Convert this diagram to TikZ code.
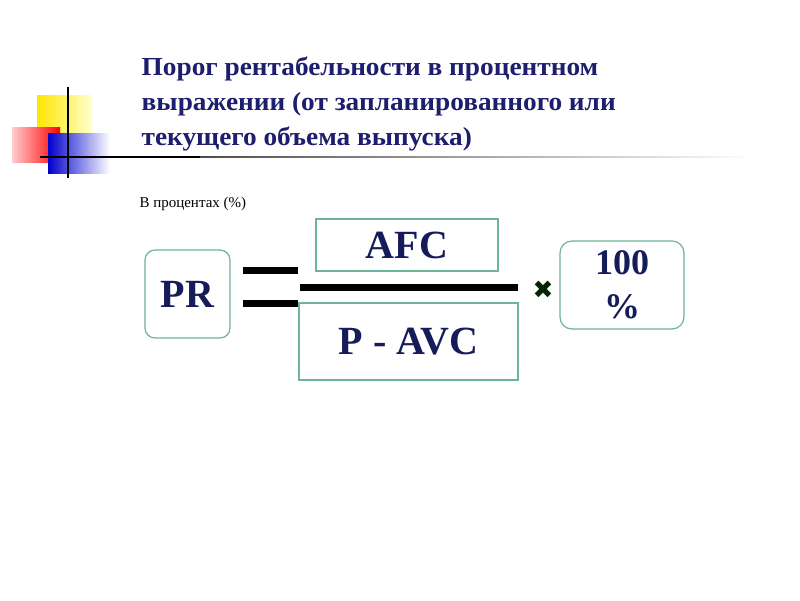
\documentclass[tikz,border=0pt]{standalone}
\usepackage{fontspec}
\setmainfont{Liberation Serif}
\newfontfamily\dejavu{DejaVu Sans}
\begin{document}
\begin{tikzpicture}[x=1pt,y=-1pt,
  bx/.style={draw=boxc,line width=1.2pt,inner sep=0pt,font=\fontsize{40}{40}\bfseries,text=navy},
  bar/.style={line width=7pt}]
\definecolor{navy}{RGB}{20,28,90}
\definecolor{tcol}{RGB}{30,30,110}
\definecolor{boxc}{RGB}{110,180,150}
\useasboundingbox (0,0) rectangle (800,600);
\fill[white] (0,0) rectangle (800,600);
% decoration
\shade[left color=yellow!80!orange,right color=yellow!20] (37,95) rectangle (92,135);
\shade[left color=red!20,right color=red] (12,127) rectangle (60,162);
\shade[left color=blue!80!black,right color=white] (48,133) rectangle (110,173);
\draw[line width=1.5pt] (68,87) -- (68,178);
\draw[line width=1.5pt] (40,157) -- (200,157);
\shade[left color=black!70,right color=white] (200,156.2) rectangle (755,157.8);
% title
\node[anchor=north west,align=left,text=tcol,xscale=1.05,font=\fontsize{26}{35}\bfseries] (title) at (138,53)
  {Порог рентабельности в процентном\\выражении (от запланированного или\\текущего объема выпуска)};
\node[anchor=west,font=\fontsize{15}{15}\selectfont] (lbl) at (136,204) {В процентах (\%)};
% formula
\node[bx,rounded corners=10pt,minimum width=85pt,minimum height=88pt] (pr) at (187.5,294) {PR};
\node[bx,minimum width=182pt,minimum height=52pt] (afc) at (407,245) {AFC};
\node[bx,minimum width=219pt,minimum height=77pt] (pavc) at (408.5,341.5) {P - AVC};
\node[bx,rounded corners=12pt,minimum width=124pt,minimum height=88pt,align=center,font=\fontsize{36}{44}\bfseries] (hund) at (622,285) {100\\\%};
\coordinate (e1a) at (243,270); \coordinate (e1b) at (298,270);
\coordinate (e2a) at (243,303); \coordinate (e2b) at (298,303);
\coordinate (fa) at (300,287); \coordinate (fb) at (518,287);
\draw[bar] (e1a) -- (e1b);
\draw[bar] (e2a) -- (e2b);
\draw[bar] (fa) -- (fb);
\node[font=\dejavu\fontsize{25}{25}\selectfont,text=black!85!green] (x) at (543,290) {✖};
\end{tikzpicture}
\end{document}
